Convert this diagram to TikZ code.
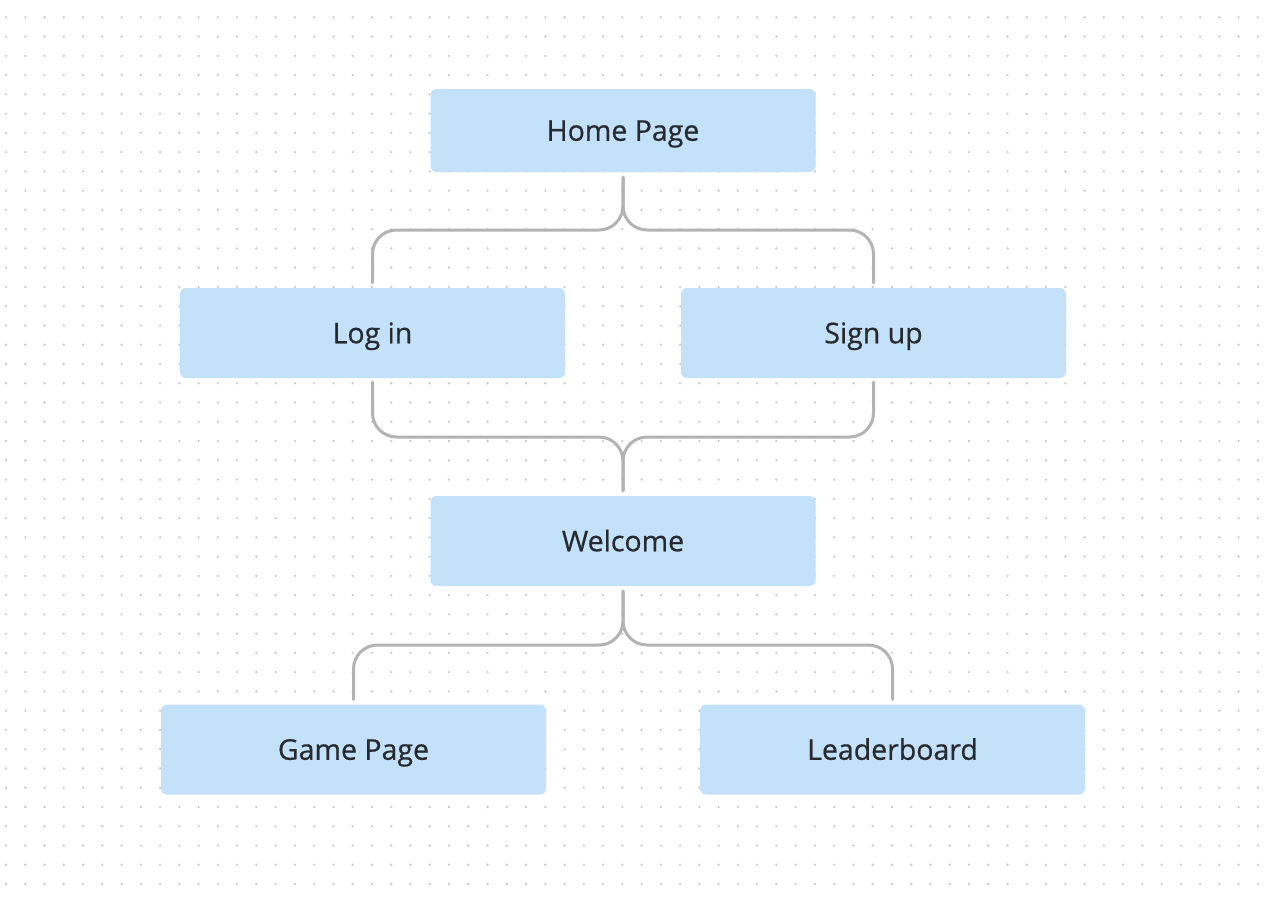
\documentclass[tikz,border=0pt]{standalone}
\usepackage{fontspec}
\setmainfont{Open Sans}[FakeBold=0.6]
\definecolor{boxfill}{HTML}{C4E1FA}
\definecolor{txt}{HTML}{272B31}
\definecolor{line}{HTML}{B3B3B3}
\definecolor{dotc}{HTML}{CBCBCB}
\begin{document}
\begin{tikzpicture}[x=1pt,y=-1pt,
  box/.style={fill=boxfill,rounded corners=6pt,minimum width=385pt,minimum height=90pt,inner sep=0pt,text=txt,text height=20.5pt,text depth=0pt,font=\fontsize{28.5}{32}\selectfont},
  conn/.style={draw=line,line width=3pt,rounded corners=24pt,line cap=round}]
\useasboundingbox (0,0) rectangle (1274,898);
\fill[white] (0,0) rectangle (1274,898);
\foreach \i in {0,...,65}{\foreach \j in {0,...,45}{\fill[dotc] (6+19.26*\i,17.3+19.26*\j) circle (1.3pt);}}
\node[box,minimum height=83pt] (hp) at (623,130.5) {Home Page};
\node[box] (li) at (372.5,333) {Log in};
\node[box] (su) at (873.5,333) {Sign up};
\node[box] (wc) at (623,541) {Welcome};
\node[box] (gp) at (353.5,749.5) {Game Page};
\node[box] (lb) at (892.5,749.5) {Leaderboard};
\coordinate (m1) at (623,230);
\coordinate (m2) at (623,437);
\coordinate (m3) at (623,645);
\draw[conn] ([yshift=-5pt]hp.south) -- (m1) -| ([yshift=5pt]li.north);
\draw[conn] ([yshift=-5pt]hp.south) -- (m1) -| ([yshift=5pt]su.north);
\draw[conn] ([yshift=-4pt]li.south) |- (m2) -- ([yshift=5pt]wc.north);
\draw[conn] ([yshift=-4pt]su.south) |- (m2) -- ([yshift=5pt]wc.north);
\draw[conn] ([yshift=-5pt]wc.south) -- (m3) -| ([yshift=5pt]gp.north);
\draw[conn] ([yshift=-5pt]wc.south) -- (m3) -| ([yshift=5pt]lb.north);
\end{tikzpicture}
\end{document}
